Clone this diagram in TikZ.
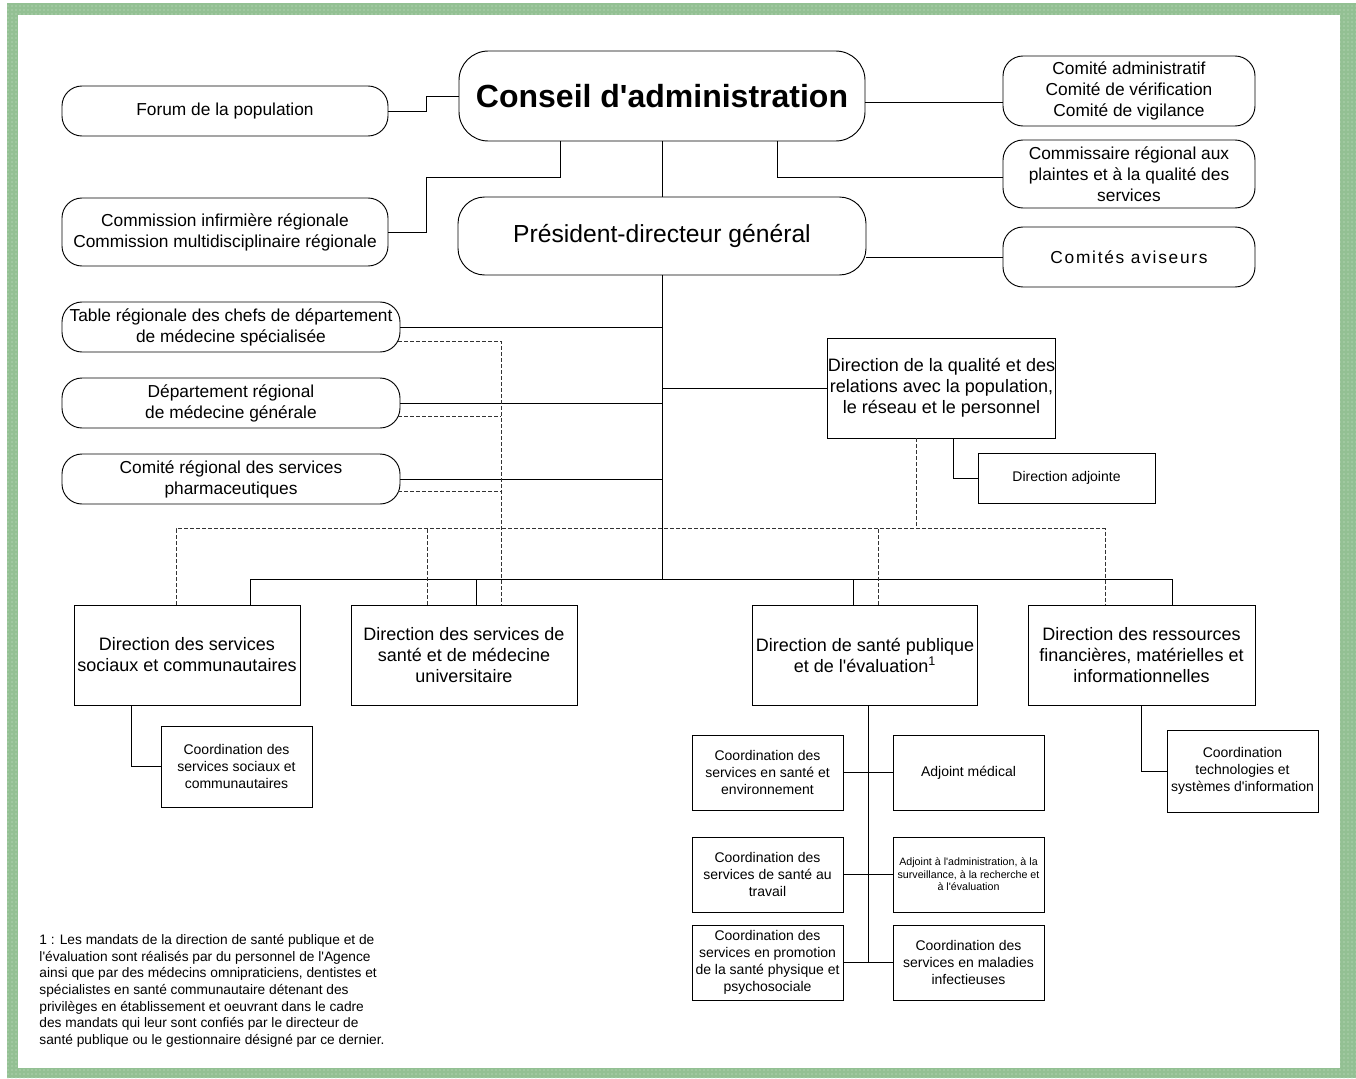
\documentclass[tikz,border=0pt]{standalone}
\usepackage{fontspec}
\setmainfont{Liberation Sans}[Ligatures=TeXOff]
\usetikzlibrary{calc,patterns}
\definecolor{framegreen}{RGB}{147,192,147}

\begin{document}
\begin{tikzpicture}[x=0.75pt,y=-0.75pt,line width=0.7pt,
  sz/.style 2 args={minimum width=#1*0.75pt,minimum height=#2*0.75pt}]
\tikzstyle{every node}+=[inner sep=0pt,align=center]
\tikzstyle{rbox}=[draw,rounded corners=15pt,font=\fontsize{13}{15.75}\selectfont]
\tikzstyle{dirbox}=[draw,font=\fontsize{13.5}{15.75}\selectfont]
\tikzstyle{cobox}=[draw,font=\fontsize{10.5}{12.75}\selectfont]
\tikzstyle{dashline}=[dash pattern=on 3pt off 1.5pt,line width=0.55pt,black!80]

% frame
\useasboundingbox (0,0) rectangle (1356,1078);
\fill[framegreen] (7,3) rectangle (1356,1078);
\fill[pattern=dots,pattern color=white!55!framegreen] (7,3) rectangle (1356,1078);
\fill[white] (18,15) rectangle (1340,1068);

% top
\node[rbox,rounded corners=22pt,sz={406}{90},font=\fontsize{24}{28}\selectfont\bfseries] (conseil) at (662,96) {Conseil d'administration};
\node[rbox,rounded corners=20pt,sz={408}{78},font=\fontsize{18.5}{22}\selectfont] (pdg) at (662,236) {Président-directeur général};
\node[rbox,sz={326}{50}] (forum) at (225,111) {Forum de la population};
\node[rbox,sz={326}{68}] (comm) at (225,232) {Commission infirmière régionale\\Commission multidisciplinaire régionale};
\node[rbox,sz={252}{70}] (cadm) at (1129,91) {Comité administratif\\Comité de vérification\\Comité de vigilance};
\node[rbox,sz={252}{68}] (commis) at (1129,174) {Commissaire régional aux\\plaintes et à la qualité des\\services};
\node[rbox,sz={252}{60}] (avis) at (1129,257) {\addfontfeature{LetterSpace=10}Comités aviseurs};

% left column
\node[rbox,sz={338}{50}] (table) at (231,327) {Table régionale des chefs de département\\de médecine spécialisée};
\node[rbox,sz={338}{50}] (dept) at (231,403) {Département régional\\de médecine générale};
\node[rbox,sz={338}{50}] (crsp) at (231,479) {Comité régional des services\\pharmaceutiques};

% directions
\node[dirbox,sz={227}{100}] (dqual) at (941.5,388) {Direction de la qualité et des\\relations avec la population,\\le réseau et le personnel};
\node[cobox,sz={177}{50}] (dadj) at (1066.5,478) {Direction adjointe};
\node[dirbox,sz={226}{100}] (dssc) at (187,655) {Direction des services\\sociaux et communautaires};
\node[dirbox,sz={226}{100}] (dsssmu) at (464,655) {Direction des services de\\santé et de médecine\\universitaire};
\node[dirbox,sz={225}{100}] (dspe) at (865,655) {Direction de santé publique\\et de l'évaluation\textsuperscript{1}};
\node[dirbox,sz={227}{100}] (drfmi) at (1141.5,655) {Direction des ressources\\financières, matérielles et\\informationnelles};

% coordinations
\node[cobox,sz={151}{81}] (cssc) at (236.5,766.5) {Coordination des\\services sociaux et\\communautaires};
\node[cobox,sz={151}{82}] (ctsi) at (1242.5,771) {Coordination\\technologies et\\systèmes d'information};
\node[cobox,sz={151}{75}] (cse) at (767.5,772.5) {Coordination des\\services en santé et\\environnement};
\node[cobox,sz={151}{75}] (am) at (968.5,772.5) {Adjoint médical};
\node[cobox,sz={151}{75}] (cst) at (767.5,874.5) {Coordination des\\services de santé au\\travail};
\node[cobox,sz={151}{75},font=\fontsize{8}{9.4}\selectfont] (aare) at (968.5,874.5) {Adjoint à l'administration, à la\\surveillance, à la recherche et\\à l'évaluation};
\node[cobox,sz={151}{75}] (cpsp) at (767.5,962.5) {Coordination des\\services en promotion\\de la santé physique et\\psychosociale};
\node[cobox,sz={151}{75}] (cmi) at (968.5,962.5) {Coordination des\\services en maladies\\infectieuses};

% footnote
\node[anchor=north west,align=left,font=\fontsize{10.3}{12.5}\selectfont] (note) at (39,934) {1 : Les mandats de la direction de santé publique et de\\
l'évaluation sont réalisés par du personnel de l'Agence\\
ainsi que par des médecins omnipraticiens, dentistes et\\
spécialistes en santé communautaire détenant des\\
privilèges en établissement et oeuvrant dans le cadre\\
des mandats qui leur sont confiés par le directeur de\\
santé publique ou le gestionnaire désigné par ce dernier.};

% conseil links
\draw (conseil.south) -- (pdg.north);
\draw (forum.east) -- ++(38,0) |- (conseil.west);
\coordinate (jl) at (560,177);
\draw (comm.east) -- ++(38,0) |- (jl) -- (jl |- conseil.south);
\coordinate (jr) at (777,177);
\draw (jr |- conseil.south) -- (jr) -- (jr -| commis.west);
\coordinate (ja) at ($(cadm.west)+(0,11)$);
\draw (ja -| conseil.east) -- (ja);
\draw (avis.west -| pdg.east) -- (avis.west);

% trunk and bus
\coordinate (bus) at ($(pdg.south)+(0,304)$);
\draw (pdg.south) -- (bus);
\foreach \n in {table,dept,crsp} \draw (\n.east -| bus) -- (\n.east);
\draw (dqual.west -| bus) -- (dqual.west);
\draw ($(dssc.north)+(63,0)$) |- (bus);
\draw ($(dsssmu.north)+(12,0)$) |- (bus);
\draw ($(dspe.north)+(-12,0)$) |- (bus);
\draw ($(drfmi.north)+(30.5,0)$) |- (bus);

% dashed links
\coordinate (dl) at ($(dssc.north)+(-11,-76)$);
\coordinate (dr) at ($(drfmi.north)+(-36.5,-76)$);
\draw[dashline] ($(dssc.north)+(-11,0)$) -- (dl) -- (dr) -- ($(drfmi.north)+(-36.5,0)$);
\draw[dashline] ($(dqual.south)+(-25.5,0)$) -- ($(dqual.south)+(-25.5,91)$);
\draw[dashline] ($(dsssmu.north)+(-37,0)$) -- ++(0,-76);
\draw[dashline] ($(dspe.north)+(13,0)$) -- ++(0,-76);
\coordinate (dv) at ($(dsssmu.north)+(37,0)$);
\path ($(table.east)+(-2,14)$) coordinate (dt) ($(dept.east)+(-2,13)$) coordinate (dd) ($(crsp.east)+(-2,12.5)$) coordinate (dc);
\draw[dashline] (dt) -| (dv);
\draw[dashline] (dd) -- (dd -| dv);
\draw[dashline] (dc) -- (dc -| dv);

% sub units
\draw ($(dqual.south)+(12,0)$) |- (dadj.west);
\draw ($(dssc.south)+(-56,0)$) |- (cssc.west);
\draw (drfmi.south) |- (ctsi.west);
\coordinate (spine) at ($(cpsp.east)!0.5!(cmi.west)$);
\draw (spine |- dspe.south) -- (spine);
\foreach \a/\b in {cse/am,cst/aare,cpsp/cmi} \draw (\a.east) -- (\b.west);
\end{tikzpicture}
\end{document}
